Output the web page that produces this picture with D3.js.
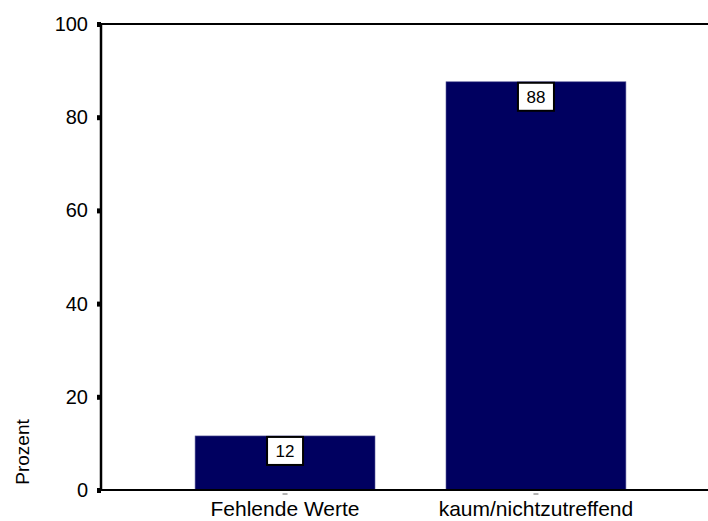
<!DOCTYPE html>
<html>
<head>
<meta charset="utf-8">
<script src="https://cdn.jsdelivr.net/npm/d3@7"></script>
<style>
  body { margin: 0; background: #fff; }
  text { font-family: "Liberation Sans", Arial, sans-serif; fill: #000; }
</style>
</head>
<body>
<div id="chart"></div>
<script>
// Data
var categories = ["Fehlende Werte", "kaum/nichtzutreffend"];
var percents = [11.6, 87.6];
var yTicks = [0, 20, 40, 60, 80, 100];
var yLabel = "Prozent";

// Dimensions
var W = 708, H = 521;
var plot = {left: 101, right: 720, top: 24, bottom: 490};

var svg = d3.select("#chart")
    .append("svg")
    .attr("width", W)
    .attr("height", H);

// Scales
var x = d3.scaleBand()
    .domain(categories)
    .range([plot.left, plot.right])
    .paddingInner(0.283)
    .paddingOuter(0.375);

var y = d3.scaleLinear()
    .domain([0, 100])
    .range([plot.bottom, plot.top]);

// Bars
svg.selectAll(".bar")
    .data(percents)
    .enter().append("rect")
    .attr("class", "bar")
    .attr("x", (d, i) => x(categories[i]))
    .attr("y", d => y(d))
    .attr("width", x.bandwidth())
    .attr("height", d => y(0) - y(d))
    .style("fill", "#000060")
    .style("stroke", "#5a5a9a")
    .style("stroke-width", 0.6);

// Value labels in boxes
var boxW = 36, boxH = 28;
var lab = svg.selectAll(".vlab")
    .data(percents)
    .enter().append("g")
    .attr("class", "vlab")
    .attr("transform", (d, i) => "translate(" + (x(categories[i]) + x.bandwidth() / 2) + "," + (y(d) + 1) + ")");

lab.append("rect")
    .attr("x", -boxW / 2)
    .attr("y", 0)
    .attr("width", boxW)
    .attr("height", boxH)
    .style("fill", "#fff")
    .style("stroke", "#000")
    .style("stroke-width", 2);

lab.append("text")
    .attr("y", boxH / 2)
    .attr("dy", "0.35em")
    .attr("text-anchor", "middle")
    .style("font-size", "17px")
    .text(d => d3.format(".0f")(d));

// Frame: top line and axis lines
svg.append("line")
    .attr("x1", plot.left).attr("x2", plot.right)
    .attr("y1", y(100)).attr("y2", y(100))
    .style("stroke", "#000").style("stroke-width", 2);

svg.append("line")
    .attr("x1", plot.left).attr("x2", plot.right)
    .attr("y1", y(0)).attr("y2", y(0))
    .style("stroke", "#000").style("stroke-width", 2);

svg.append("line")
    .attr("x1", plot.left).attr("x2", plot.left)
    .attr("y1", y(100) - 1).attr("y2", y(0) + 1)
    .style("stroke", "#000").style("stroke-width", 2.5);

// Y ticks
var yg = svg.append("g");
yg.selectAll(".ytick")
    .data(yTicks)
    .enter().append("rect")
    .attr("x", plot.left - 4)
    .attr("y", d => y(d) - 2)
    .attr("width", 4)
    .attr("height", 5)
    .style("fill", "#000");

yg.selectAll(".ylab")
    .data(yTicks)
    .enter().append("text")
    .attr("x", 88)
    .attr("y", d => y(d))
    .attr("dy", "0.35em")
    .attr("text-anchor", "end")
    .style("font-size", "20px")
    .text(d => d);

// X ticks and labels
svg.selectAll(".xtick")
    .data(categories)
    .enter().append("line")
    .attr("x1", d => x(d) + x.bandwidth() / 2 - 2.5)
    .attr("x2", d => x(d) + x.bandwidth() / 2 + 2.5)
    .attr("y1", 494).attr("y2", 494)
    .style("stroke", "#666").style("stroke-width", 1);

svg.selectAll(".xlab")
    .data(categories)
    .enter().append("text")
    .attr("x", d => x(d) + x.bandwidth() / 2)
    .attr("y", 516)
    .attr("text-anchor", "middle")
    .style("font-size", "21px")
    .text(d => d);

// Y axis title
svg.append("text")
    .attr("transform", "translate(29,452) rotate(-90)")
    .attr("text-anchor", "middle")
    .style("font-size", "19px")
    .text(yLabel);
</script>
</body>
</html>
